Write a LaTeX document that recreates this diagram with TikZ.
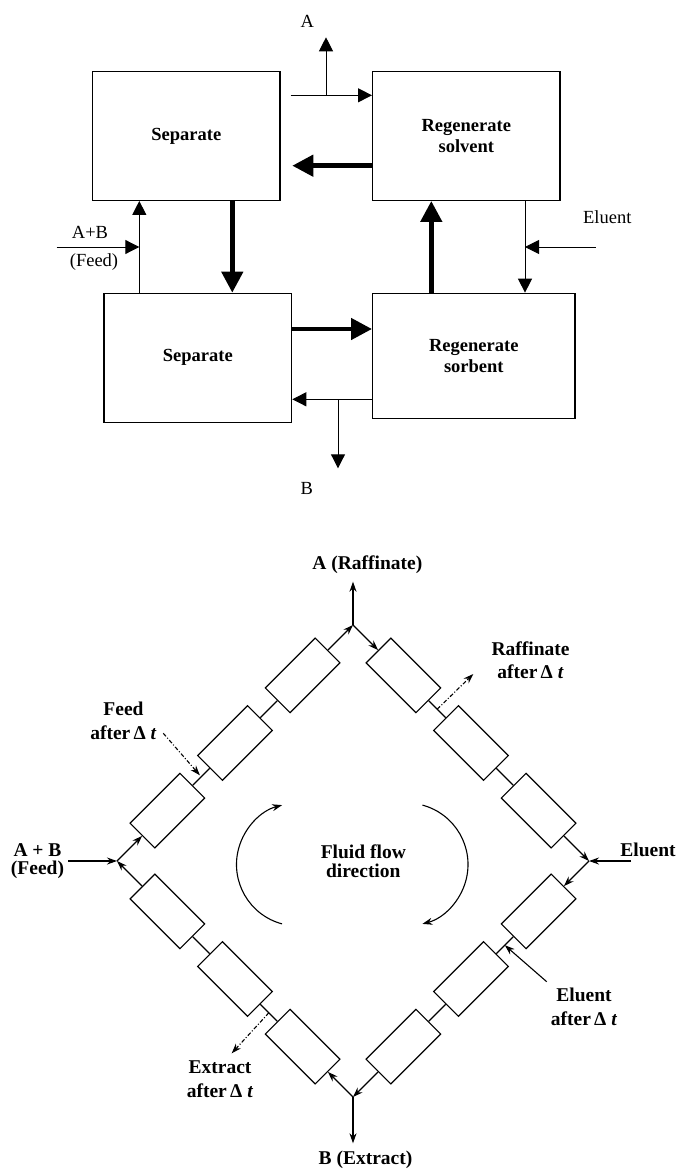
\documentclass[tikz,border=0pt]{standalone}
\usepackage{fontspec}
\setmainfont{Liberation Serif}
\usetikzlibrary{arrows.meta,calc,positioning}

\begin{document}
\begin{tikzpicture}[x=1pt,y=-1pt,
  procbox/.style={draw,line width=1.3pt,inner sep=0pt,align=center,
    font=\fontsize{18.5}{21.4}\selectfont\bfseries},
  thinarr/.style={line width=1pt,-{Triangle[length=14pt,width=14pt]}},
  thickarr/.style={line width=4.6pt,-{Triangle[length=21pt,width=21pt]}},
  toplbl/.style={inner sep=0pt,font=\fontsize{18.5}{21}\selectfont},
  column/.style={draw,line width=1.1pt,minimum width=70.5pt,minimum height=35pt,inner sep=0pt},
  pipe/.style={line width=1.1pt},
  flow/.style={pipe,-{Stealth[length=10pt,width=7pt]}},
  switch/.style={flow,dash pattern=on 4pt off 2pt on 1pt off 2pt},
  botlbl/.style={inner sep=0pt,align=center,font=\fontsize{19.5}{18.5}\selectfont\bfseries},
  afterlbl/.style={botlbl,font=\fontsize{19.5}{23.4}\selectfont\bfseries}]
\useasboundingbox (0,0) rectangle (678,1169);

% block scheme
\node[procbox,minimum width=187.3pt,minimum height=128.6pt] (sepA) at (186.3,136) {Separate};
\node[procbox,minimum width=187.3pt,minimum height=128.6pt] (regsol) at (466.3,136) {Regenerate\\solvent};
\node[procbox,minimum width=187.7pt,minimum height=129pt] (sepB) at (197.8,357.8) {Separate};
\node[procbox,minimum width=202.3pt,minimum height=125pt] (regsorb) at (473.8,355.8) {Regenerate\\sorbent};

\coordinate (aIn) at (290.7,95.3);
\coordinate (aJ) at (326,95.3);
\coordinate (aTip) at (326,37.3);
\draw[thinarr] (aIn) -- (aIn -| regsol.west);
\draw[thinarr] (aJ) -- (aTip);
\node[toplbl] (labA) at (307.3,21.7) {A};

\coordinate (retS) at (292.3,165.7);
\draw[thickarr] (retS -| regsol.west) -- (retS);
\coordinate (dnS) at (232.3,250);
\draw[thickarr] (dnS |- sepA.south) -- (dnS |- sepB.north);

\coordinate (feedJ) at (139.3,247);
\coordinate (feedIn) at (56.7,247);
\draw[thinarr] (feedJ |- sepB.north) -- (feedJ |- sepA.south);
\draw[thinarr] (feedIn) -- (feedJ);
\node[toplbl] (labAB) at (90,232.3) {A+B};
\node[toplbl] (labFd) at (94,261.7) {(Feed)};

\coordinate (upS) at (431.3,247);
\draw[thickarr] (upS |- regsorb.north) -- (upS |- regsol.south);
\coordinate (eluJ) at (525,247);
\coordinate (eluIn) at (595.7,247);
\draw[thinarr] (eluJ |- regsol.south) -- (eluJ |- regsorb.north);
\draw[thinarr] (eluIn) -- (eluJ);
\node[toplbl] (labElu) at (607.3,217.3) {Eluent};

\coordinate (fwdS) at (330,329);
\draw[thickarr] (fwdS -| sepB.east) -- (fwdS -| regsorb.west);
\coordinate (bJ) at (338,399.3);
\coordinate (bTip) at (338,468.3);
\draw[thinarr] (bJ -| regsorb.west) -- (bJ -| sepB.east);
\draw[thinarr] (bJ) -- (bTip);
\node[toplbl] (labB) at (306.7,488.3) {B};

% simulated moving bed
\coordinate (jL) at (117,861);
\coordinate (jT) at (353,625);
\coordinate (jR) at (589,861);
\coordinate (jB) at (353,1097);

\foreach \s/\p/\q/\r in {ul/jL/jT/45,ur/jT/jR/-45,lr/jR/jB/-135,ll/jB/jL/135}{
  \foreach \i/\f in {1/0.2136,2/0.5,3/0.7864}
    \node[column,rotate=\r] (\s\i) at ($(\p)!\f!(\q)$) {};
  \draw[flow] (\p) -- (\s1.west);
  \draw[pipe] (\s1.east) -- (\s2.west);
  \draw[pipe] (\s2.east) -- (\s3.west);
  \draw[flow] (\s3.east) -- (\q);
}

\coordinate (feedS) at (68,861);
\coordinate (eluS) at (631,861);
\coordinate (raffE) at (353,581.7);
\coordinate (extrE) at (353,1143.3);
\draw[flow] (feedS) -- (jL);
\draw[flow] (eluS) -- (jR);
\draw[flow] (jT) -- (raffE);
\draw[flow] (jB) -- (extrE);

\node[botlbl] (rafLbl) at (367.3,565) {A (Raffinate)};
\node[botlbl] (extLbl) at (365.5,1160) {B (Extract)};
\node[botlbl] (feedLbl) at (37.5,861) {A + B\\(Feed)};
\node[botlbl] (eluLbl) at (648,850) {Eluent};
\node[botlbl] (flowLbl) at (363.3,861) {Fluid flow\\direction};

\node[afterlbl] (feedDt) at (123.5,721) {Feed\\after\,Δ\ \textit{t}};
\node[afterlbl] (rafDt) at (530.5,660) {Raffinate\\after\,Δ\ \textit{t}};
\node[afterlbl] (extDt) at (220,1079) {Extract\\after\,Δ\ \textit{t}};
\node[afterlbl] (eluDt) at (584,1006.7) {Eluent\\after\,Δ\ \textit{t}};

\coordinate (gFeed) at ($(ul1.east)!0.5!(ul2.west)$);
\coordinate (gRaf) at ($(ur1.east)!0.5!(ur2.west)$);
\coordinate (gElu) at ($(lr1.east)!0.5!(lr2.west)$);
\coordinate (gExt) at ($(ll1.east)!0.5!(ll2.west)$);

\coordinate (fdS) at (163.3,733.3);
\coordinate (rfE) at (473.3,674);
\coordinate (elS) at (546.7,981.7);
\coordinate (exE) at (231.7,1053.3);
\draw[switch,shorten >=2pt] (fdS) -- (gFeed);
\draw[switch] (gRaf) -- (rfE);
\draw[flow] (elS) -- (gElu);
\draw[switch] (gExt) -- (exE);

% flow direction arcs
\coordinate (ccL) at (298,864.5);
\coordinate (ccR) at (406.5,864.5);
\draw[flow] ($(ccL)+(105:61.5)$) arc[start angle=105,end angle=255,radius=61.5];
\draw[flow] ($(ccR)+(-75:61.5)$) arc[start angle=-75,end angle=75,radius=61.5];

\end{tikzpicture}
\end{document}
